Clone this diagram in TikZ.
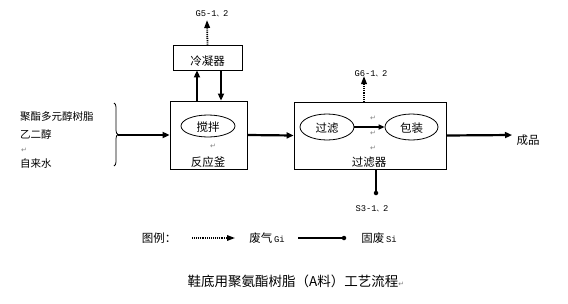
\documentclass[tikz,border=0pt]{standalone}
\usepackage{fontspec}
\setmainfont{Noto Sans CJK SC}
\newfontfamily\cjkf{Noto Sans CJK SC}
\newfontfamily\monof{Liberation Mono}
\newfontfamily\dvf{DejaVu Sans}
\newcommand{\dunhao}{{\cjkf\fontsize{6.5}{7}\selectfont 、}}
\usetikzlibrary{arrows.meta,shapes.geometric,decorations.pathreplacing}
\begin{document}
\begin{tikzpicture}[x=1pt,y=-1pt,
  boxst/.style={draw,line width=0.8pt,inner sep=0pt},
  ellst/.style={draw,ellipse,line width=0.8pt,inner sep=0pt},
  lbl/.style={font=\fontsize{11.5}{12}\selectfont,inner sep=0pt},
  sidelbl/.style={font=\fontsize{10.5}{11}\selectfont,inner sep=0pt,anchor=west},
  codelbl/.style={font=\monof\fontsize{8.8}{9}\selectfont,inner sep=0pt},
  retmark/.style={font=\dvf\fontsize{7}{8}\selectfont,text=gray,inner sep=0pt},
  flow/.style={line width=2.2pt,-{Triangle[length=7pt,width=6pt]}},
  gas/.style={line width=1.8pt,dash pattern=on 1pt off 0.9pt,-{Triangle[length=8pt,width=5.5pt]}},
  solid/.style={line width=2pt},
  enddot/.style={circle,fill,inner sep=0pt,minimum size=4.5pt}
]
\useasboundingbox (0,0) rectangle (568,303);
\fill[white] (0,0) rectangle (568,303);

% condenser
\node[boxst,minimum width=69pt,minimum height=25pt] (cond) at (207.5,57.5) {};
\node[lbl] (condt) at (207.5,61) {冷凝器};
% reactor
\node[boxst,minimum width=77pt,minimum height=68pt] (reac) at (208.5,135) {};
\node[ellst,minimum width=54pt,minimum height=22pt] (stir) at (208,126) {};
\node[lbl] (stirt) at (208,127) {搅拌};
\node[retmark] (r1) at (213,146) {↵};
\node[lbl] (react) at (208,162) {反应釜};

% condenser links
\draw[flow] ([xshift=-11.5pt]reac.north) -- ([xshift=-10.5pt]cond.south);
\draw[flow] ([xshift=13.5pt]cond.south) -- ([xshift=12.5pt]reac.north);
\coordinate (g5end) at (207,20);
\draw[gas] (cond.north) -- (g5end);
\node[codelbl] (g5) at (212,14) {G5-1\dunhao 2};

% inputs
\node[sidelbl] (in1) at (20,117) {聚酯多元醇树脂};
\node[sidelbl] (in2) at (20,134) {乙二醇};
\node[retmark,anchor=west] (r0) at (21,150) {↵};
\node[sidelbl] (in3) at (20,164) {自来水};
\draw[line width=0.8pt,decorate,decoration={brace,amplitude=4pt}] (114,103) -- (114,166);
\coordinate (bracetip) at (118,135);
\draw[flow] (bracetip) -- (reac.west);

% filter
\node[boxst,minimum width=152pt,minimum height=67pt] (filt) at (370,135.5) {};
\node[ellst,minimum width=54pt,minimum height=26pt] (gl) at (327,127) {};
\node[lbl] (glt) at (327,128) {过滤};
\node[ellst,minimum width=53pt,minimum height=26pt] (bz) at (411.5,127) {};
\node[lbl] (bzt) at (411.5,128) {包装};
\draw[line width=1.6pt,-{Triangle[length=6pt,width=5pt]}] (gl.east) -- (bz.west);
\node[retmark] (r2) at (373,118) {↵};
\node[retmark] (r3) at (373,133) {↵};
\node[retmark] (r4) at (373,148) {↵};
\node[lbl] (filtt) at (369,162) {过滤器};

\draw[flow] (reac.east) -- (filt.west);
\coordinate (g6start) at (364,102);
\coordinate (g6end) at (364,76);
\draw[gas] (g6start) -- (g6end);
\node[codelbl] (g6) at (371,74) {G6-1\dunhao 2};
\coordinate (outend) at (512,135);
\draw[flow] (filt.east) -- (outend);
\node[lbl] (prod) at (528,140) {成品};
\coordinate (s3start) at (376,169);
\node[enddot] (s3end) at (376,193) {};
\draw[solid] (s3start) -- (s3end.center);
\node[codelbl] (s3) at (372,209) {S3-1\dunhao 2};

% legend
\node[lbl] (leg) at (159,238) {图例：};
\coordinate (la1) at (192,238);
\coordinate (la2) at (235,238);
\draw[gas,line width=1.5pt] (la1) -- (la2);
\node[lbl] (gasl) at (267,238) {废气\,{\monof\fontsize{8.8}{9}\selectfont Gi}};
\coordinate (lb1) at (298,238);
\node[enddot] (lb2) at (344,238) {};
\draw[solid,line width=1.6pt] (lb1) -- (lb2.center);
\node[lbl] (soll) at (379,238) {固废\,{\monof\fontsize{8.8}{9}\selectfont Si}};

% title
\node[font=\fontsize{13.5}{14}\selectfont,inner sep=0pt] (title) at (296,281) {鞋底用聚氨酯树脂（A料）工艺流程{\dvf\fontsize{7}{8}\selectfont\color{gray}↵}};
\end{tikzpicture}
\end{document}
